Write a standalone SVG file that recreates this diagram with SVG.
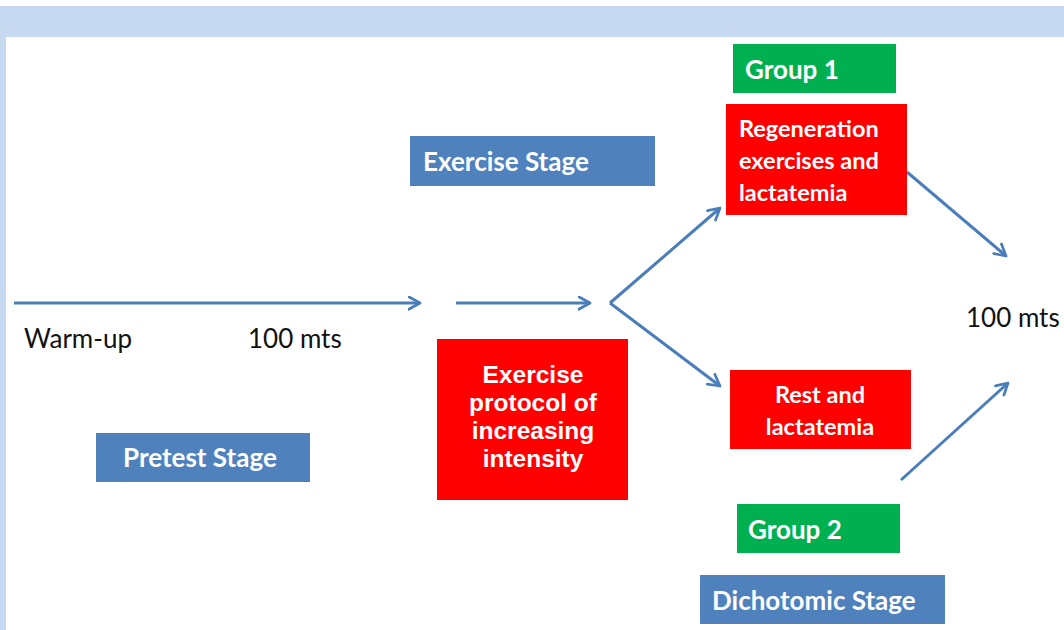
<svg xmlns="http://www.w3.org/2000/svg" width="1064" height="630" viewBox="0 0 1064 630">
<defs>
<style>
.blue{fill:#4F81BD}
.green{fill:#00B050}
.red{fill:#FF0000}
.lbl{font-family:Lato,"Open Sans",sans-serif;font-weight:bold;fill:#fff}
.arial{font-family:"Liberation Sans",Arial,sans-serif;font-weight:bold;fill:#fff;text-anchor:middle}
.plain{font-family:Lato,"Open Sans",sans-serif;fill:#111;font-size:26px}
.conn{stroke:#4A7EBB;stroke-width:3;fill:none;marker-end:url(#ah)}
</style>
<marker id="ah" viewBox="0 0 12 12" refX="10" refY="6" markerWidth="5" markerHeight="5" orient="auto" markerUnits="strokeWidth">
<path d="M1,1 L10,6 L1,11" fill="none" stroke="#4A7EBB" stroke-width="2.2" stroke-linecap="round" stroke-linejoin="round"/>
</marker>
</defs>
<rect x="0" y="0" width="1064" height="630" fill="#fff"/>
<rect x="0" y="6" width="1064" height="31" fill="#C6D9F1"/>
<rect x="0" y="37" width="6" height="593" fill="#C6D9F1"/>

<g id="connectors">
<line class="conn" x1="14" y1="303" x2="420" y2="303"/>
<line class="conn" x1="456" y1="303" x2="590" y2="303"/>
<line class="conn" x1="610" y1="303" x2="720" y2="208"/>
<line class="conn" x1="610" y1="303" x2="720" y2="386"/>
<line class="conn" x1="907" y1="172" x2="1006" y2="256"/>
<line class="conn" x1="901" y1="480" x2="1008" y2="383"/>
</g>

<g id="warmup"><text class="plain" x="24" y="348">Warm-up</text></g>
<g id="mts1"><text class="plain" x="248" y="348">100 mts</text></g>
<g id="mts2"><text class="plain" x="966" y="327">100 mts</text></g>

<g id="pretest"><rect class="blue" x="96" y="433" width="214" height="49"/><text class="lbl" x="123" y="467" font-size="26">Pretest Stage</text></g>
<g id="exercise-stage"><rect class="blue" x="410" y="136" width="245" height="50"/><text class="lbl" x="423" y="171" font-size="26">Exercise Stage</text></g>
<g id="protocol"><rect class="red" x="437" y="339" width="191" height="161"/>
<text class="arial" font-size="24.5"><tspan x="533" y="383">Exercise</tspan><tspan x="533" y="411">protocol of</tspan><tspan x="533" y="439">increasing</tspan><tspan x="533" y="467">intensity</tspan></text></g>
<g id="group1"><rect class="green" x="733" y="44" width="163" height="49"/><text class="lbl" x="745" y="79" font-size="26">Group 1</text></g>
<g id="regeneration"><rect class="red" x="726" y="104" width="181" height="111"/>
<text class="lbl" font-size="23.5"><tspan x="739" y="137">Regeneration</tspan><tspan x="739" y="169">exercises and</tspan><tspan x="739" y="201">lactatemia</tspan></text></g>
<g id="rest"><rect class="red" x="730" y="370" width="181" height="79"/>
<text class="lbl" font-size="23.5" text-anchor="middle"><tspan x="820" y="403">Rest and</tspan><tspan x="820" y="435">lactatemia</tspan></text></g>
<g id="group2"><rect class="green" x="737" y="504" width="163" height="49"/><text class="lbl" x="748" y="539" font-size="26">Group 2</text></g>
<g id="dichotomic"><rect class="blue" x="700" y="575" width="245" height="49"/><text class="lbl" x="712" y="610" font-size="26">Dichotomic Stage</text></g>
</svg>
